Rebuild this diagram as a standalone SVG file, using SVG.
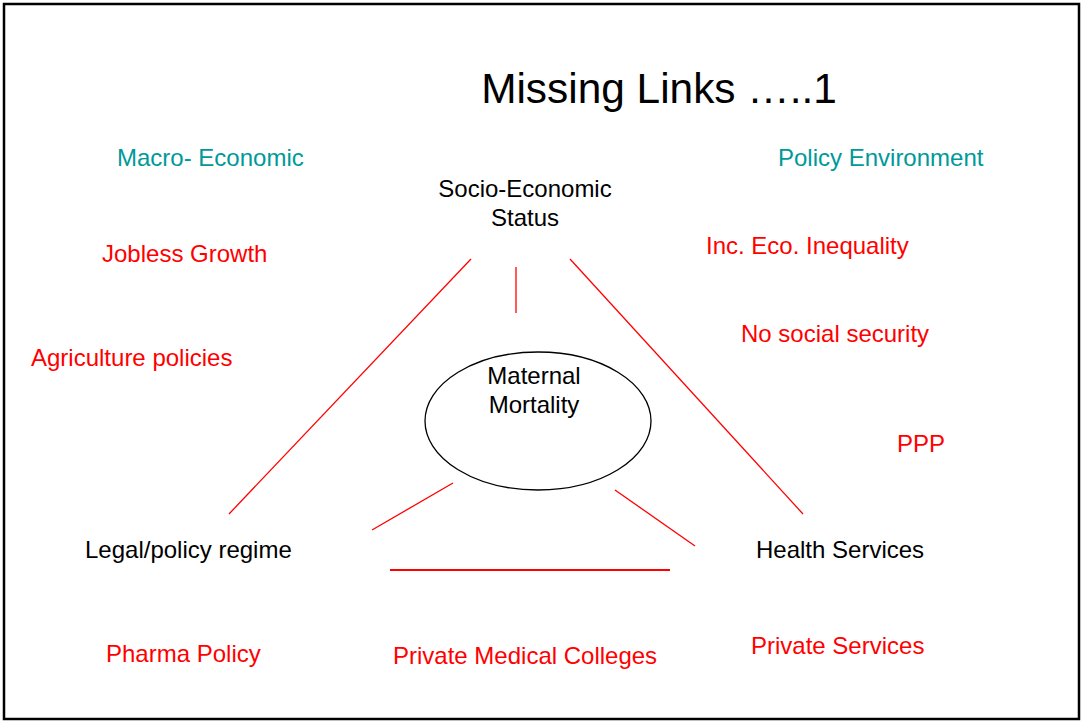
<svg xmlns="http://www.w3.org/2000/svg" width="1081" height="721" viewBox="0 0 1081 721">
<style>
text{font-family:"Liberation Sans",Arial,sans-serif;font-size:24px}
.t{fill:#000}
.g{fill:#009999}
.r{fill:#ff0000}
.c line{stroke:#ff0000;stroke-width:1.3}
</style>
<rect x="4" y="4" width="1075" height="715" fill="#fff" stroke="#000" stroke-width="2.5"/>
<text id="title" x="659" y="103" text-anchor="middle" style="font-size:42.4px" class="t">Missing Links …..1</text>
<g id="macro"><text x="117" y="166" class="g">Macro- Economic</text></g>
<g id="policy-env"><text x="778" y="166" class="g">Policy Environment</text></g>
<g id="ses"><text x="525" y="197" text-anchor="middle" class="t">Socio-Economic</text><text x="525" y="226" text-anchor="middle" class="t">Status</text></g>
<g id="jobless"><text x="102" y="262" class="r">Jobless Growth</text></g>
<g id="inequality"><text x="706" y="254" class="r">Inc. Eco. Inequality</text></g>
<g id="social"><text x="741" y="342" class="r">No social security</text></g>
<g id="agri"><text x="31" y="366" class="r">Agriculture policies</text></g>
<g id="mm"><ellipse cx="538" cy="421" rx="113" ry="69" fill="none" stroke="#000" stroke-width="1.3"/><text x="534" y="384" text-anchor="middle" class="t">Maternal</text><text x="534" y="413" text-anchor="middle" class="t">Mortality</text></g>
<g id="ppp"><text x="897" y="452" class="r">PPP</text></g>
<g id="legal"><text x="85" y="558" class="t">Legal/policy regime</text></g>
<g id="health"><text x="756" y="558" class="t">Health Services</text></g>
<g id="pharma"><text x="106" y="662" class="r">Pharma Policy</text></g>
<g id="pmc"><text x="393" y="664" class="r">Private Medical Colleges</text></g>
<g id="ps"><text x="751" y="654" class="r">Private Services</text></g>
<g id="connectors" class="c">
<line x1="471" y1="259" x2="229" y2="514"/>
<line x1="516" y1="267" x2="516" y2="313"/>
<line x1="570" y1="259" x2="803" y2="514"/>
<line x1="453" y1="483" x2="372" y2="530"/>
<line x1="615" y1="490" x2="695" y2="546"/>
<line x1="390" y1="570" x2="670" y2="570" style="stroke-width:2"/>
</g>
</svg>
